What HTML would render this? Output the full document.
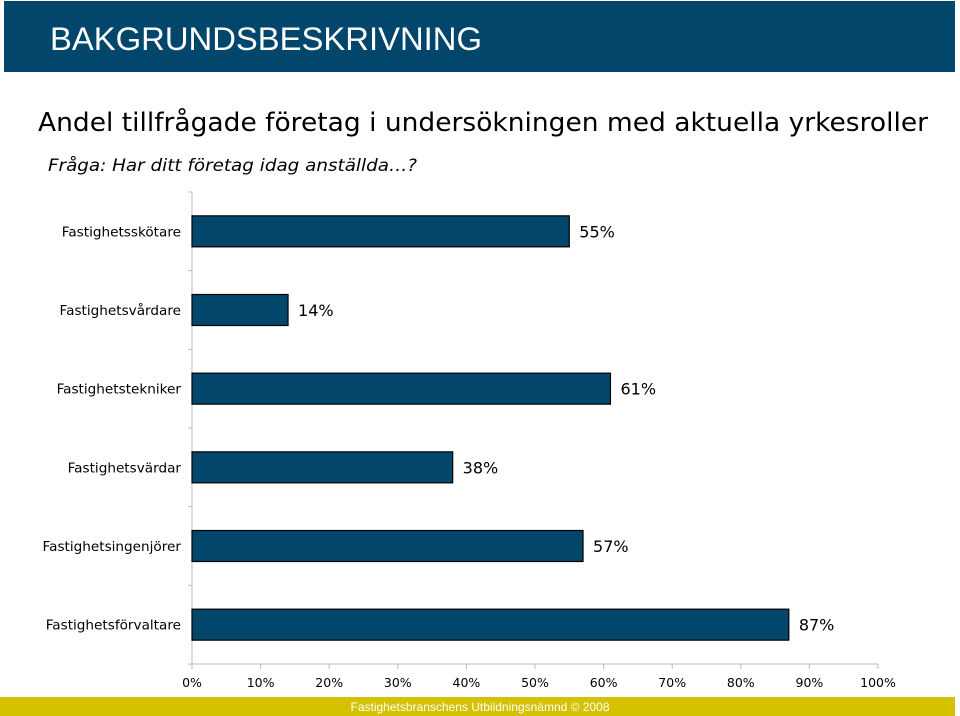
<!DOCTYPE html>
<html><head><meta charset="utf-8"><style>
html,body{margin:0;padding:0;background:#fff;width:960px;height:716px;overflow:hidden}
svg{display:block}
</style></head><body>
<svg id="chart" width="960" height="716" xmlns="http://www.w3.org/2000/svg">
<rect x="4" y="1" width="951" height="71" fill="#02466b"/>
<text x="50" y="50" font-family="Liberation Sans, sans-serif" font-size="32" fill="#fff" textLength="432" lengthAdjust="spacingAndGlyphs">BAKGRUNDSBESKRIVNING</text>
<text x="38" y="131" font-family="DejaVu Sans, sans-serif" font-size="26" fill="#000" textLength="890" lengthAdjust="spacingAndGlyphs">Andel tillfrågade företag i undersökningen med aktuella yrkesroller</text>
<text x="48" y="171" font-family="DejaVu Sans, sans-serif" font-style="italic" font-size="17" fill="#000" textLength="369" lengthAdjust="spacingAndGlyphs">Fråga: Har ditt företag idag anställda…?</text>
<g id="plot"></g>
<rect x="0" y="697" width="955" height="19" fill="#d4c100"/>
<text x="480" y="711" text-anchor="middle" font-family="Liberation Sans, sans-serif" font-size="12" fill="#fff">Fastighetsbranschens Utbildningsnämnd © 2008</text>
</svg>
<script>
const categories = ["Fastighetsskötare","Fastighetsvårdare","Fastighetstekniker","Fastighetsvärdar","Fastighetsingenjörer","Fastighetsförvaltare"];
const values = [55,14,61,38,57,87];
const tickLabels = ["0%","10%","20%","30%","40%","50%","60%","70%","80%","90%","100%"];
const tickValues = [0,10,20,30,40,50,60,70,80,90,100];

const NS="http://www.w3.org/2000/svg";
const g=document.getElementById('plot');
const x0=192,x1=878,yTop=192,yBot=664;
const xs=v=>x0+(v/100)*(x1-x0);
const band=(yBot-yTop)/categories.length;
const yc=i=>yTop+band*(i+0.5);
function mk(tag,attrs){const e=document.createElementNS(NS,tag);for(const k in attrs)e.setAttribute(k,attrs[k]);g.appendChild(e);return e;}

let ax=mk('line',{x1:x0,y1:yTop,x2:x0,y2:yBot,stroke:'#bbb','stroke-width':1});


let bx=mk('line',{x1:x0,y1:yBot,x2:x1,y2:yBot,stroke:'#bbb','stroke-width':1});


for(let i=0;i<=categories.length;i++){
  const t=mk('line',{x1:x0-4,y1:yTop+band*i,x2:x0,y2:yTop+band*i,stroke:'#bbb'});
  
  
}
tickValues.forEach((v,i)=>{
  const t=mk('line',{x1:xs(v),y1:yBot,x2:xs(v),y2:yBot+5,stroke:'#bbb'});
  
  
  const l=mk('text',{x:xs(v),y:687,'text-anchor':'middle','font-family':'DejaVu Sans, sans-serif','font-size':12.5,fill:'#000'});
  l.textContent=tickLabels[i];
  
  
});
categories.forEach((c,i)=>{
  const y=yc(i);
  const r=mk('rect',{x:x0,y:y-15.5,width:xs(values[i])-x0,height:31,fill:'#02466b',stroke:'#000','stroke-width':1.2});
  
  
  const l=mk('text',{x:181,y:y+5,'text-anchor':'end','font-family':'DejaVu Sans, sans-serif','font-size':13.6,fill:'#000'});
  l.textContent=c;
  
  
  const v=mk('text',{x:xs(values[i])+10,y:y+6,'font-family':'DejaVu Sans, sans-serif','font-size':16,fill:'#000'});
  v.textContent=values[i]+'%';
  
  
});
</script>
</body></html>
